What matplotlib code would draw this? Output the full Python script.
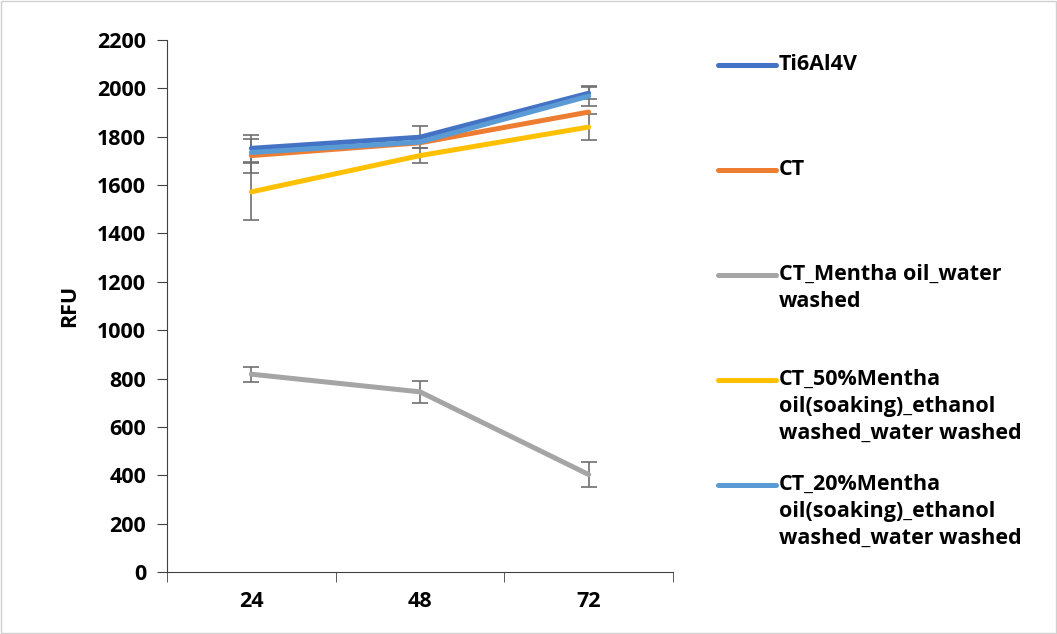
import numpy as np
import matplotlib.pyplot as plt
from matplotlib.lines import Line2D
from matplotlib.patches import Rectangle

# data
hours = ["24", "48", "72"]
labels = [
    "Ti6Al4V",
    "CT",
    "CT_Mentha oil_water\nwashed",
    "CT_50%Mentha\noil(soaking)_ethanol\nwashed_water washed",
    "CT_20%Mentha\noil(soaking)_ethanol\nwashed_water washed",
]
ti6al4v = [1752, 1798, 1980]
ct = [1722, 1775, 1902]
ct_water = [818, 745, 403]
ct_50 = [1572, 1722, 1840]
ct_20 = [1735, 1778, 1968]

ti6al4v_err = [55, 45, 25]
ct_err = [70, 0, 0]
ct_water_err = [31, 45, 53]
ct_50_err = [118, 30, 55]
ct_20_err = [0, 0, 42]

series = [ti6al4v, ct, ct_water, ct_50, ct_20]
errors = [ti6al4v_err, ct_err, ct_water_err, ct_50_err, ct_20_err]
colors = ["#4472C4", "#ED7D31", "#A5A5A5", "#FFC000", "#5B9BD5"]

plt.rcParams['font.family'] = ['Open Sans', 'DejaVu Sans']
fs = 15.5

fig = plt.figure(figsize=(10.57, 6.34), dpi=100)
ax = fig.add_axes([167 / 1057, 1 - 572 / 634, (673 - 167) / 1057, (572 - 40) / 634])

x = np.arange(len(hours))
for vals, err, c in zip(series, errors, colors):
    ax.plot(x, vals, color=c, lw=3.6, solid_capstyle='round', zorder=3)
    err = np.array(err)
    m = err > 0
    if m.any():
        ax.errorbar(x[m], np.array(vals)[m], yerr=err[m], fmt='none',
                    ecolor='#6f6f6f', elinewidth=1.2, capsize=6, capthick=1.2, zorder=2)

ax.set_xlim(-0.5, 2.5)
ax.set_ylim(0, 2200)
ax.set_yticks(np.arange(0, 2201, 200))
ax.set_xticks(x)
ax.set_xticklabels(hours)
ax.set_xticks([-0.5, 0.5, 1.5, 2.5], minor=True)
ax.tick_params(axis='x', which='major', length=0, pad=14, labelsize=fs)
ax.tick_params(axis='x', which='minor', length=7, direction='out', color='#404040')
ax.tick_params(axis='y', length=7, direction='out', labelsize=fs, color='#404040', pad=8)
for lab in ax.get_xticklabels() + ax.get_yticklabels():
    lab.set_fontweight('bold')
ax.set_ylabel("RFU", fontsize=fs, fontweight='bold', labelpad=12)
ax.spines['top'].set_visible(False)
ax.spines['right'].set_visible(False)
ax.spines['left'].set_color('#404040')
ax.spines['bottom'].set_color('#404040')

# legend drawn by hand so the handle sits on the first text line
for i, (lab, c) in enumerate(zip(labels, colors)):
    ypix = 65 + i * 105
    yf = 1 - ypix / 634
    fig.add_artist(Line2D([718 / 1057, 776 / 1057], [yf, yf], color=c, lw=3.6,
                          solid_capstyle='round', transform=fig.transFigure))
    fig.text(779 / 1057, 1 - (ypix - 11) / 634, lab, fontsize=fs, fontweight='bold',
             va='top', ha='left', linespacing=1.38)

fig.add_artist(Rectangle((0.001, 0.001), 0.998, 0.997, transform=fig.transFigure,
                         fill=False, edgecolor='#d0d0d0', lw=1))

fig.savefig("out.png", dpi=100)
